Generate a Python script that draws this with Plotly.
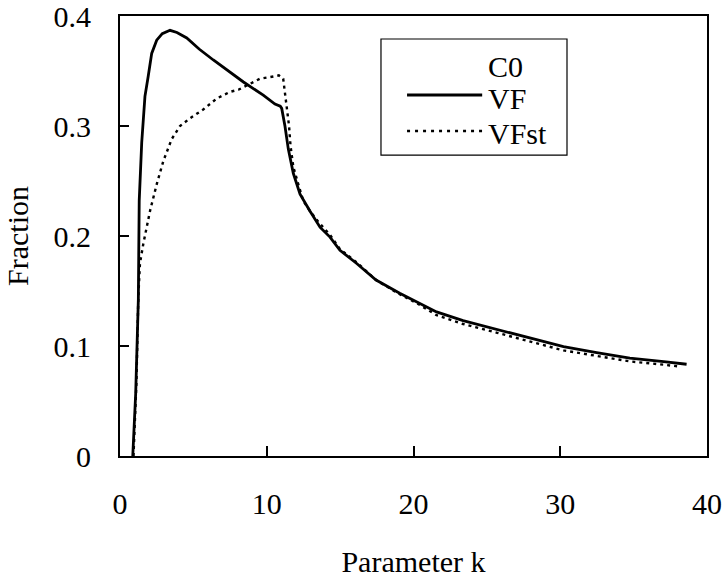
import plotly.graph_objects as go

vf_k = [0.87, 1.07, 1.25, 1.31, 1.48, 1.70, 1.92, 2.16, 2.50, 2.88, 3.41, 3.88, 4.55, 5.39,
        6.36, 7.40, 8.41, 9.76, 10.56, 10.92, 11.02, 11.24, 11.47, 11.81, 12.27, 12.93,
        13.63, 14.31, 14.99, 16.13, 17.45, 19.06, 20.22, 21.57, 23.38, 25.70, 27.91, 30.22,
        32.48, 34.74, 37.05, 38.61]
vf_f = [0.0, 0.057, 0.142, 0.232, 0.285, 0.327, 0.345, 0.366, 0.378, 0.384, 0.387, 0.385,
        0.380, 0.370, 0.360, 0.350, 0.340, 0.328, 0.320, 0.318, 0.316, 0.300, 0.279, 0.257,
        0.238, 0.223, 0.208, 0.199, 0.187, 0.175, 0.160, 0.148, 0.140, 0.131, 0.123, 0.115,
        0.107, 0.0994, 0.094, 0.089, 0.0858, 0.0834]

vfst_k = [0.92, 1.12, 1.25, 1.36, 1.59, 2.05, 2.50, 2.95, 3.52, 4.09, 4.77, 5.67, 6.59, 7.49,
          8.07, 8.64, 9.54, 10.45, 10.82, 11.12, 11.24, 11.36, 11.52, 11.62, 11.81, 12.15,
          12.49, 12.93, 13.51, 14.31, 14.99, 16.13, 17.45, 19.06, 20.22, 21.57, 23.38, 25.70,
          27.91, 30.22, 32.48, 34.74, 37.05, 38.16]
vfst_f = [0.0, 0.067, 0.145, 0.175, 0.193, 0.223, 0.247, 0.268, 0.288, 0.300, 0.307, 0.315,
          0.325, 0.331, 0.333, 0.337, 0.343, 0.345, 0.346, 0.343, 0.331, 0.321, 0.300, 0.282,
          0.263, 0.247, 0.232, 0.223, 0.213, 0.201, 0.188, 0.176, 0.160, 0.147, 0.139, 0.128,
          0.120, 0.112, 0.104, 0.096, 0.091, 0.086, 0.083, 0.0813]

x_ticks = [0, 10, 20, 30, 40]
y_ticks = [0, 0.1, 0.2, 0.3, 0.4]
y_labels = ["0", "0.1", "0.2", "0.3", "0.4"]
legend_names = ["C0", "VF", "VFst"]

FONT = "Liberation Serif"
FS = 30

fig = go.Figure()
fig.add_trace(go.Scatter(x=vf_k, y=vf_f, mode="lines", name=legend_names[1],
                         line=dict(color="black", width=2.8), showlegend=False))
fig.add_trace(go.Scatter(x=vfst_k, y=vfst_f, mode="lines", name=legend_names[2],
                         line=dict(color="black", width=2.4, dash="3px,4px"),
                         showlegend=False))

# hand-built legend box (paper coordinates)
shapes = [
    dict(type="rect", xref="paper", yref="paper", x0=0.4446, x1=0.7615, y0=0.684, y1=0.9477,
         line=dict(color="black", width=1.2), fillcolor="white", layer="above"),
    dict(type="line", xref="paper", yref="paper", x0=0.489, x1=0.617, y0=0.8205, y1=0.8205,
         line=dict(color="black", width=2.8), layer="above"),
    dict(type="line", xref="paper", yref="paper", x0=0.489, x1=0.617, y0=0.7386, y1=0.7386,
         line=dict(color="black", width=2.4, dash="3px,5px"), layer="above"),
]
legend_y = [0.886, 0.8136, 0.734]
annotations = [dict(text=name, xref="paper", yref="paper", x=0.623, y=yy,
                    xanchor="left", yanchor="middle", showarrow=False,
                    font=dict(family=FONT, size=FS, color="black"))
               for name, yy in zip(legend_names, legend_y)]

fig.update_layout(
    width=724, height=578,
    margin=dict(l=120, r=17, t=16, b=122),
    paper_bgcolor="white", plot_bgcolor="white",
    font=dict(family=FONT, size=FS, color="black"),
    showlegend=False,
    shapes=shapes,
    annotations=annotations,
    xaxis=dict(range=[0, 40], tickvals=x_ticks, ticks="inside", ticklen=10,
               tickcolor="black", tickwidth=1.5, showline=True, linecolor="black",
               linewidth=2, mirror=True, showgrid=False, zeroline=False,
               ticklabelstandoff=20, automargin=False, ticklabeloverflow="allow",
               title=dict(text="Parameter k", standoff=33,
                          font=dict(family=FONT, size=FS))),
    yaxis=dict(range=[0, 0.4], tickvals=y_ticks, ticktext=y_labels, ticks="inside",
               ticklen=9, tickcolor="black", tickwidth=1.5, showline=True,
               linecolor="black", linewidth=2, mirror=True, showgrid=False,
               zeroline=False, ticklabelstandoff=21, automargin=False,
               ticklabeloverflow="allow",
               title=dict(text="Fraction", standoff=16,
                          font=dict(family=FONT, size=FS))),
)

fig.write_html("out.html", config={"displayModeBar": False},
               post_script="document.body.style.margin='0';")
